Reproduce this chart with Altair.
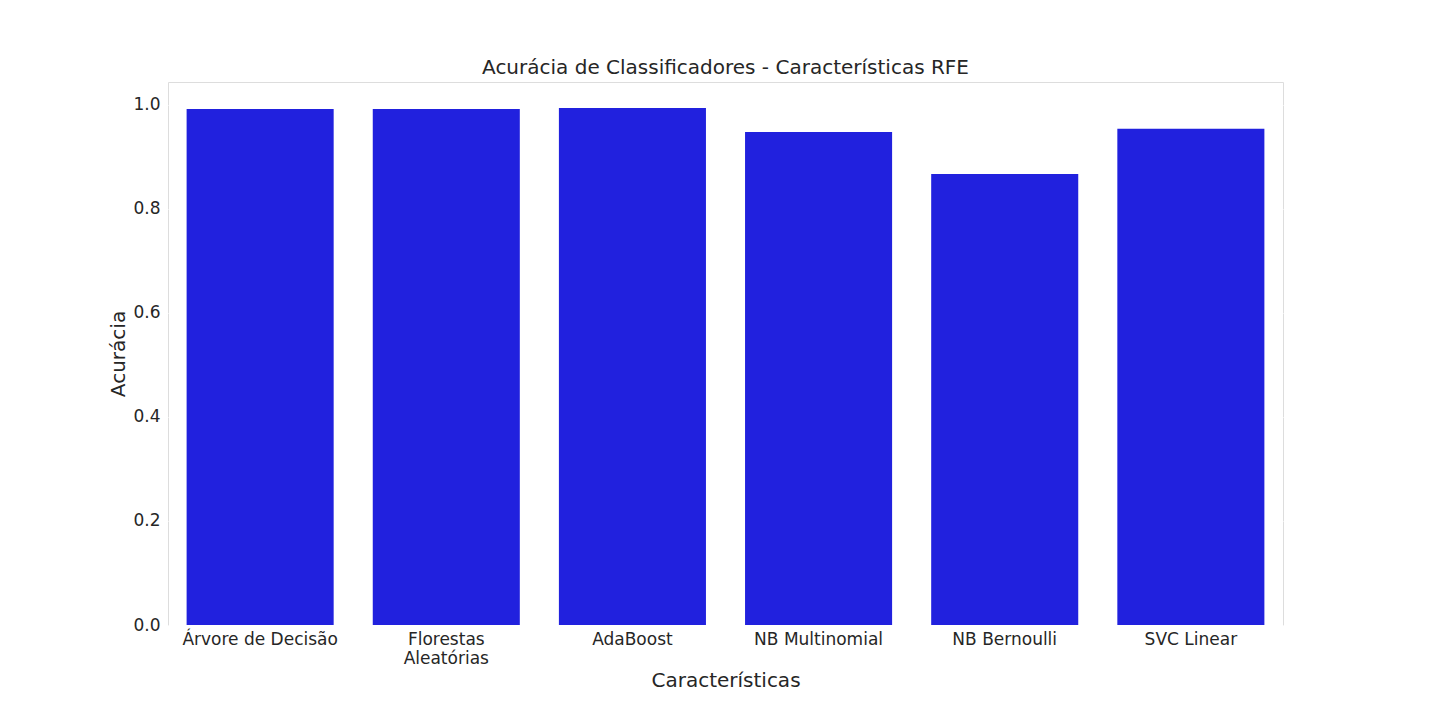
import altair as alt
import pandas as pd

classificadores = ["Árvore de Decisão", "Florestas\nAleatórias", "AdaBoost",
                   "NB Multinomial", "NB Bernoulli", "SVC Linear"]
acuracia = [0.992, 0.992, 0.994, 0.948, 0.867, 0.954]

df = pd.DataFrame({"clf": classificadores, "acc": acuracia})

chart = alt.Chart(df).mark_bar(color="#2121de").encode(
    x=alt.X("clf:N", sort=classificadores, title="Características",
            scale=alt.Scale(paddingInner=0.21, paddingOuter=0.1),
            axis=alt.Axis(labelAngle=0, labelExpr="split(datum.label, '\\n')",
                          ticks=False, domain=False, labelFontSize=17,
                          titleFontSize=20, titleFontWeight="normal",
                          labelColor="#262626", titleColor="#262626", labelPadding=6)),
    y=alt.Y("acc:Q", title="Acurácia", scale=alt.Scale(domain=[0, 1.044], nice=False),
            axis=alt.Axis(values=[0, 0.2, 0.4, 0.6, 0.8, 1.0], format=".1f",
                          ticks=False, domain=False, labelFontSize=17,
                          titleFontSize=20, titleFontWeight="normal",
                          labelColor="#262626", titleColor="#262626",
                          gridColor="white", labelPadding=8)),
).properties(
    width=1115, height=543,
    title=alt.TitleParams("Acurácia de Classificadores - Características RFE",
                          fontSize=20, fontWeight="normal", color="#262626"),
    padding={"left": 100, "top": 50, "right": 10, "bottom": 10},
).configure_view(fill="#e5e5e5", stroke=None).configure(font="DejaVu Sans")

chart.save("out.html", embed_options={"renderer": "svg", "actions": False})
